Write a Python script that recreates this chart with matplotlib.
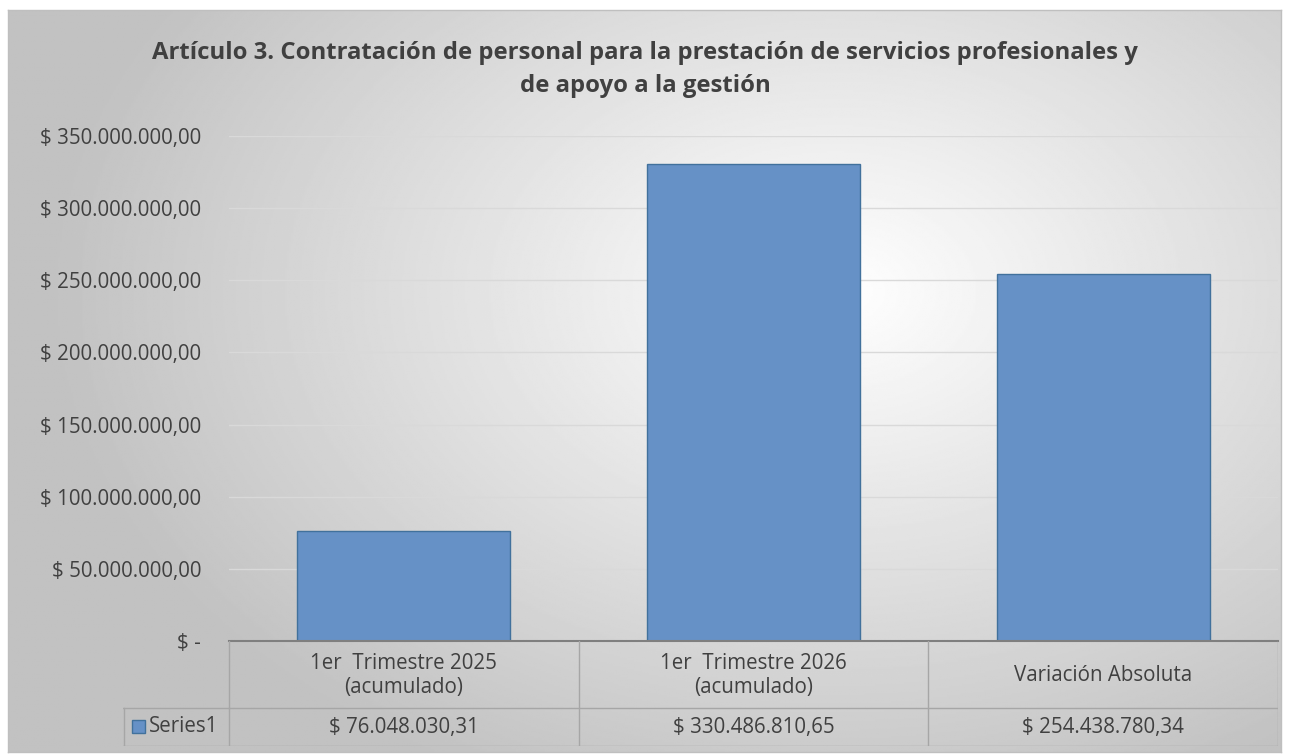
import numpy as np
import matplotlib
matplotlib.use("Agg")
import matplotlib.pyplot as plt
from matplotlib.ticker import FuncFormatter, MultipleLocator

plt.rcParams['font.family'] = ['Open Sans', 'DejaVu Sans']

title = "Artículo 3. Contratación de personal para la prestación de servicios profesionales y\nde apoyo a la gestión"
categories = ["1er  Trimestre 2025\n(acumulado)", "1er  Trimestre 2026\n(acumulado)", "Variación Absoluta"]
values = [76048030.31, 330486810.65, 254438780.34]
series_name = "Series1"

W, H = 1289, 754
text_col = '#404040'
bar_col = '#6691c6'
bar_edge = '#41719c'
fs = 14.8


def money(v):
    if v == 0:
        return "$ -"
    s = f"{v:,.2f}"
    s = s.replace(",", "X").replace(".", ",").replace("X", ".")
    return "$ " + s


def fx(px):
    return px / W


def fy(py):
    return 1 - py / H


fig = plt.figure(figsize=(W / 100, H / 100), dpi=100)
fig.patch.set_facecolor('white')

# radial gradient background of the chart area
bg = fig.add_axes([fx(8), fy(752), fx(1281 - 8), (752 - 10) / H])
yy, xx = np.mgrid[0:1:400j, 0:1:700j]
r = np.sqrt(((xx - 0.65) / 0.72) ** 2 + ((yy - 0.62) / 0.85) ** 2)
shade = np.clip(1.0 - 0.28 * r, 0.76, 1.0)
bg.imshow(shade, cmap='gray', vmin=0, vmax=1, aspect='auto', extent=[0, 1, 0, 1], origin='lower')
bg.set_xticks([])
bg.set_yticks([])
for sp in bg.spines.values():
    sp.set_color('#bfbfbf')
    sp.set_linewidth(1)
bg.set_zorder(0)

# main plot
ax = fig.add_axes([fx(229), fy(641), fx(1278 - 229), (641 - 136) / H])
ax.set_zorder(1)
ax.patch.set_alpha(0)
x = np.arange(len(values))
ax.bar(x, values, width=0.61, color=bar_col, edgecolor=bar_edge, linewidth=1, zorder=3)
ax.set_xlim(-0.5, len(values) - 0.5)
ax.set_ylim(0, 350000000)
ax.yaxis.set_major_locator(MultipleLocator(50000000))
ax.yaxis.set_major_formatter(FuncFormatter(lambda v, p: money(v)))
ax.grid(axis='y', color='#d9d9d9', linewidth=1, zorder=0)
ax.set_axisbelow(True)
ax.set_xticks([])
ax.tick_params(axis='y', length=0, pad=20, labelsize=fs, labelcolor=text_col)
for k in ['top', 'right', 'left']:
    ax.spines[k].set_visible(False)
ax.spines['bottom'].set_color('#7f7f7f')
ax.spines['bottom'].set_linewidth(1.5)
ax.spines['bottom'].set_zorder(4)

fig.text(fx(645), fy(69.5), title, ha='center', va='center', fontsize=17.2,
         fontweight='bold', color=text_col, linespacing=1.55)

# data table
tb = fig.add_axes([fx(123), fy(746), fx(1278 - 123), (746 - 641) / H])
tb.set_zorder(2)
tb.patch.set_alpha(0)
tb.set_xlim(123, 1278)
tb.set_ylim(746, 641)
tb.axis('off')
lc = '#a6a6a6'
cols = np.linspace(229, 1278, len(categories) + 1)
row_mid = 708
tb.plot([cols[0], cols[-1]], [row_mid, row_mid], color=lc, lw=1)
tb.plot([123, cols[-1]], [745.5, 745.5], color=lc, lw=1)
tb.plot([123, cols[0]], [row_mid, row_mid], color=lc, lw=1)
tb.plot([123.5, 123.5], [row_mid, 746], color=lc, lw=1)
for c in cols:
    tb.plot([c, c], [641, 746], color=lc, lw=1)
for i, (cat, v) in enumerate(zip(categories, values)):
    cx = (cols[i] + cols[i + 1]) / 2
    tb.text(cx, (641 + row_mid) / 2 + 1, cat, ha='center', va='center', fontsize=fs,
            color=text_col, linespacing=1.2)
    tb.text(cx, (row_mid + 746) / 2, money(v), ha='center', va='center', fontsize=fs,
            color=text_col)
tb.add_patch(plt.Rectangle((132, 720), 13, 13, facecolor=bar_col, edgecolor=bar_edge, lw=1))
tb.text(149, (row_mid + 746) / 2, series_name, ha='left', va='center', fontsize=fs, color=text_col)

fig.savefig('out.png', dpi=100)
